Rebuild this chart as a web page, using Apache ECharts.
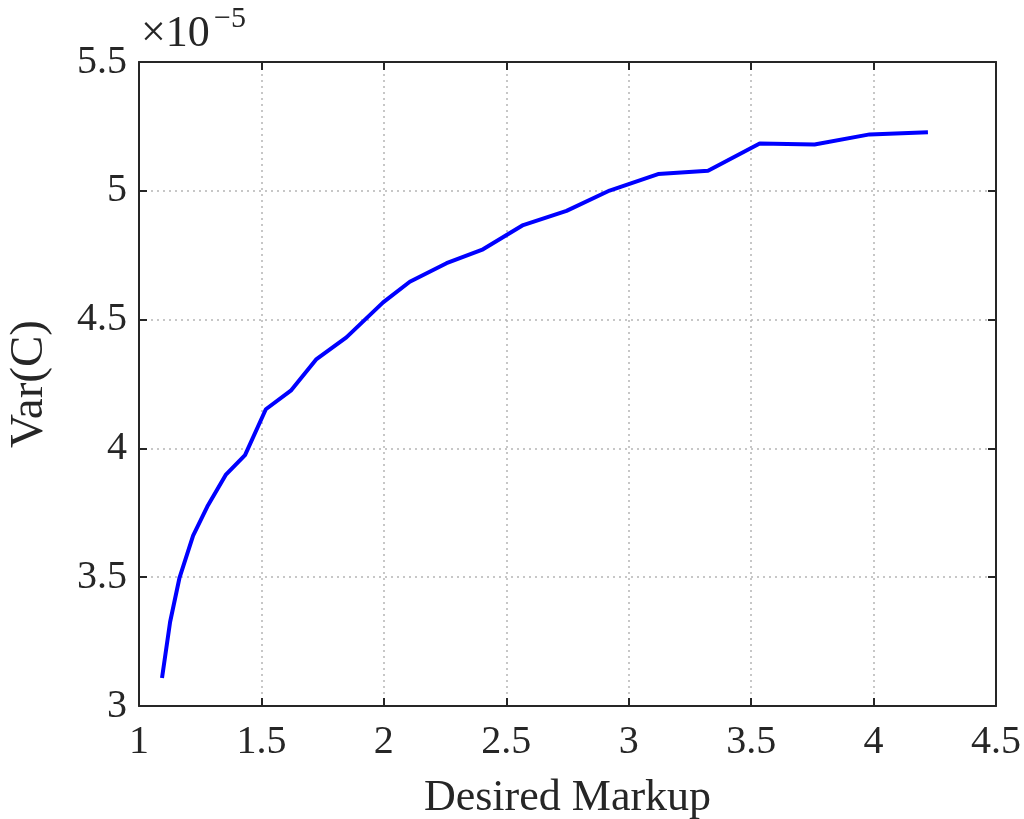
<!DOCTYPE html>
<html>
<head>
<meta charset="utf-8">
<script src="https://cdn.jsdelivr.net/npm/echarts@6/dist/echarts.min.js"></script>
<style>html,body{margin:0;padding:0;background:#fff}#c{width:1024px;height:819px}</style>
</head>
<body>
<div id="c"></div>
<script>
// Desired markup (x) values
const markup = [1.094, 1.127, 1.165, 1.221, 1.279, 1.354, 1.433, 1.518, 1.620, 1.725, 1.847, 1.997, 2.106, 2.256, 2.405, 2.569, 2.746, 2.922, 3.120, 3.324, 3.535, 3.759, 3.984, 4.222];
// Var(C) values, in units of 1e-5
const varC = [3.109, 3.326, 3.496, 3.661, 3.774, 3.897, 3.974, 4.152, 4.224, 4.347, 4.431, 4.567, 4.647, 4.719, 4.773, 4.867, 4.922, 5.001, 5.065, 5.078, 5.184, 5.180, 5.219, 5.227];
const xTicks = [1, 1.5, 2, 2.5, 3, 3.5, 4, 4.5];
const yTicks = [3, 3.5, 4, 4.5, 5, 5.5];

const font = '"Liberation Serif", "DejaVu Serif", serif';
const axisColor = '#262626';
const data = markup.map((x, i) => [x, varC[i]]);

const chart = echarts.init(document.getElementById('c'), null, {renderer: 'canvas'});
const gridLine = {show: true, lineStyle: {color: '#b5b5b5', width: 1.5, type: [2, 4]}};
chart.setOption({
  animation: false,
  backgroundColor: '#ffffff',
  grid: {left: 139, top: 62, right: 28, bottom: 113, containLabel: false, outerBoundsMode: 'none'},
  xAxis: [{
    type: 'value', min: xTicks[0], max: xTicks[xTicks.length - 1], interval: 0.5,
    name: 'Desired Markup', nameLocation: 'middle', nameGap: 70,
    nameTextStyle: {fontFamily: font, fontSize: 44, color: axisColor},
    axisLine: {show: true, onZero: false, lineStyle: {color: axisColor, width: 2}},
    axisTick: {show: true, inside: true, length: 8, lineStyle: {color: axisColor, width: 2}},
    axisLabel: {fontFamily: font, fontSize: 40, color: axisColor, margin: 16},
    splitLine: gridLine
  }, {
    type: 'value', position: 'top', min: xTicks[0], max: xTicks[xTicks.length - 1], interval: 0.5,
    axisLine: {show: true, onZero: false, lineStyle: {color: axisColor, width: 2}},
    axisTick: {show: true, inside: true, length: 8, lineStyle: {color: axisColor, width: 2}},
    axisLabel: {show: false}, splitLine: {show: false}
  }],
  yAxis: [{
    type: 'value', min: yTicks[0], max: yTicks[yTicks.length - 1], interval: 0.5,
    name: 'Var(C)', nameLocation: 'middle', nameGap: 86,
    nameTextStyle: {fontFamily: font, fontSize: 47, color: axisColor},
    axisLine: {show: true, onZero: false, lineStyle: {color: axisColor, width: 2}},
    axisTick: {show: true, inside: true, length: 8, lineStyle: {color: axisColor, width: 2}},
    axisLabel: {fontFamily: font, fontSize: 40, color: axisColor, margin: 12},
    splitLine: gridLine
  }, {
    type: 'value', position: 'right', min: yTicks[0], max: yTicks[yTicks.length - 1], interval: 0.5,
    axisLine: {show: true, onZero: false, lineStyle: {color: axisColor, width: 2}},
    axisTick: {show: true, inside: true, length: 8, lineStyle: {color: axisColor, width: 2}},
    axisLabel: {show: false}, splitLine: {show: false}
  }],
  graphic: [
    {type: 'text', left: 141, top: 12, style: {text: '×10', font: '44px ' + font, fill: axisColor}},
    {type: 'text', left: 214, top: 4, style: {text: '−5', font: '30px ' + font, fill: axisColor}}
  ],
  series: [{
    type: 'line', data: data, showSymbol: false, symbol: 'none',
    lineStyle: {color: '#0000ff', width: 4}, silent: true
  }]
});
</script>
</body>
</html>
